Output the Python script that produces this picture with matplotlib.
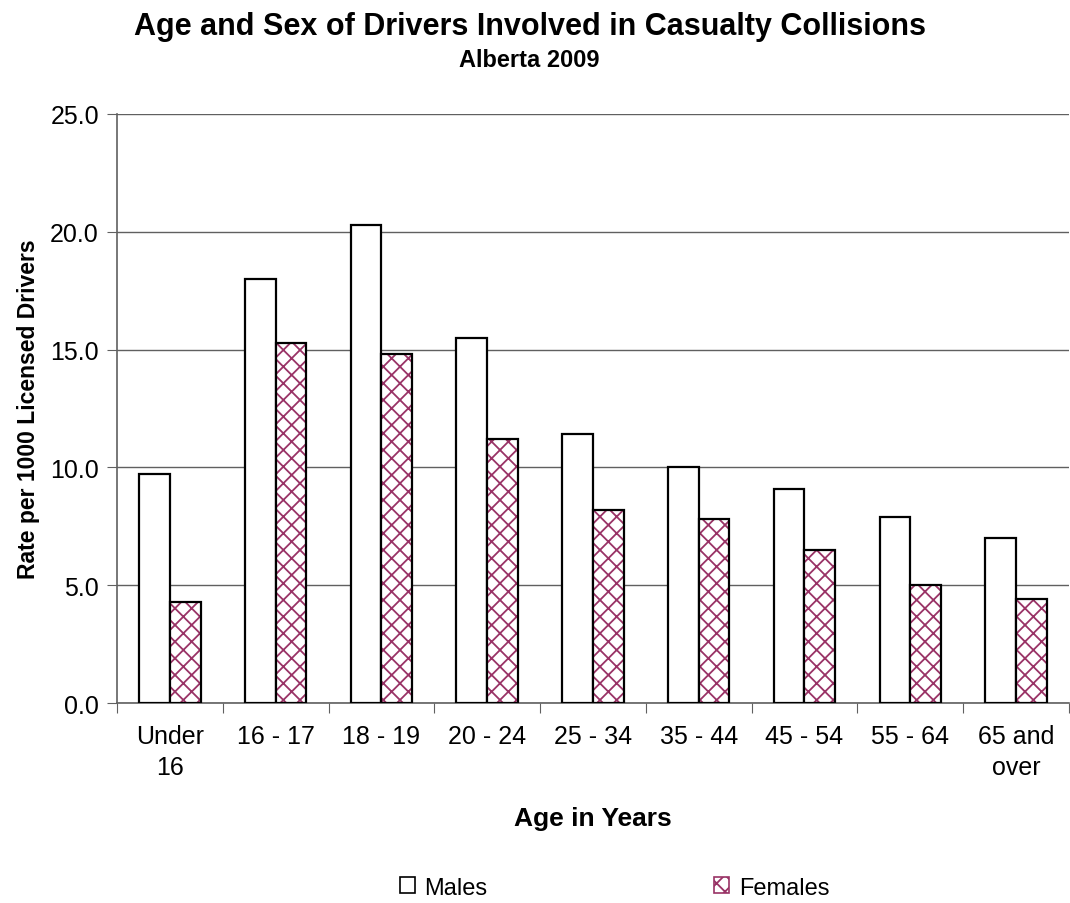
import matplotlib
matplotlib.use("Agg")
import matplotlib.pyplot as plt
import numpy as np
from matplotlib.patches import Patch

plt.rcParams["font.family"] = ["Liberation Sans", "DejaVu Sans"]
plt.rcParams["hatch.linewidth"] = 1.3

AGE_GROUPS = ["Under\n16", "16 - 17", "18 - 19", "20 - 24", "25 - 34",
              "35 - 44", "45 - 54", "55 - 64", "65 and\nover"]
MALES = [9.7, 18.0, 20.3, 15.5, 11.4, 10.0, 9.1, 7.9, 7.0]
FEMALES = [4.3, 15.3, 14.8, 11.2, 8.2, 7.8, 6.5, 5.0, 4.4]
Y_TICKS = [0, 5, 10, 15, 20, 25]

BAR_W = 0.29
HATCH = "xx"
HATCH_COLOR = "#993366"


def main() -> None:
    fig = plt.figure(figsize=(10.70, 9.04), dpi=100)
    ax = fig.add_axes([0.1093, 0.2212, 0.8897, 0.6516])

    centers = np.arange(len(AGE_GROUPS)) + 0.5
    ax.bar(centers - BAR_W / 2, MALES, BAR_W, color="white",
           edgecolor="black", linewidth=1.6, zorder=3)
    # hatch takes the edge colour, so draw the purple hatch first
    # and the black outline on top of it
    ax.bar(centers + BAR_W / 2, FEMALES, BAR_W, color="white",
           edgecolor=HATCH_COLOR, linewidth=0, hatch=HATCH, zorder=3)
    ax.bar(centers + BAR_W / 2, FEMALES, BAR_W, fill=False,
           edgecolor="black", linewidth=1.6, zorder=4)

    ax.set_xlim(0, len(AGE_GROUPS))
    ax.set_ylim(0, 25)
    ax.set_yticks(Y_TICKS)
    ax.set_yticklabels([f"{v:.1f}" for v in Y_TICKS], fontsize=18)
    ax.yaxis.grid(True, color="#606060", linewidth=1.0, zorder=0)

    ax.set_xticks(np.arange(len(AGE_GROUPS) + 1))
    ax.set_xticklabels([])
    ax.set_xticks(centers, minor=True)
    ax.set_xticklabels(AGE_GROUPS, minor=True, fontsize=18, linespacing=1.4)
    ax.tick_params(axis="x", which="minor", length=0, pad=15)
    ax.tick_params(axis="x", which="major", length=7, color="#606060")
    ax.tick_params(axis="y", length=7, color="#606060", pad=6)

    for side in ("top", "right"):
        ax.spines[side].set_visible(False)
    for side in ("left", "bottom"):
        ax.spines[side].set_color("#606060")
        ax.spines[side].set_linewidth(1.2)

    ax.set_ylabel("Rate per 1000 Licensed Drivers", fontsize=16.5,
                  fontweight="bold", labelpad=7)
    ax.set_xlabel("Age in Years", fontsize=19, fontweight="bold", labelpad=19)

    fig.text(0.495, 0.970, "Age and Sex of Drivers Involved in Casualty Collisions",
             ha="center", va="center", fontsize=22, fontweight="bold")
    fig.text(0.495, 0.933, "Alberta 2009", ha="center", va="center",
             fontsize=17, fontweight="bold")

    handles = [
        Patch(facecolor="white", edgecolor="black", linewidth=1.2, label="Males"),
        Patch(facecolor="white", edgecolor=HATCH_COLOR, linewidth=1.2,
              hatch=HATCH, label="Females"),
    ]
    fig.legend(handles=handles, loc="center", bbox_to_anchor=(0.5743, 0.017),
               ncol=2, frameon=False, fontsize=17, handlelength=0.65,
               handleheight=0.65, handletextpad=0.4, columnspacing=9.6)

    fig.savefig("out.png", dpi=100)
    plt.close(fig)


if __name__ == "__main__":
    main()
